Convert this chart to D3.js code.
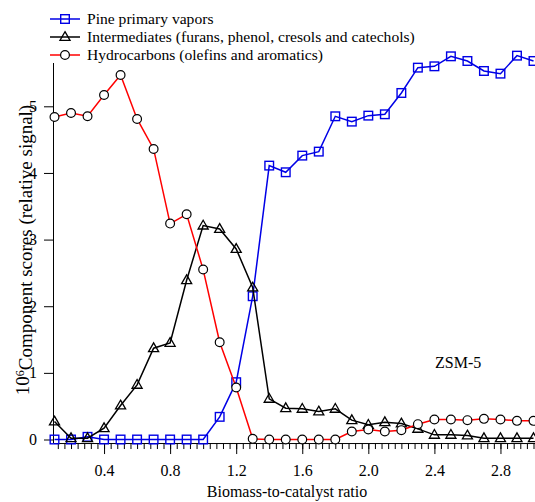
<!DOCTYPE html>
<html>
<head>
<meta charset="utf-8">
<script src="https://cdn.jsdelivr.net/npm/d3@7"></script>
<style>
    body { margin: 0; background: #fff; }
    svg text { font-family: "Liberation Serif", "DejaVu Serif", serif; fill: #000; }
</style>
</head>
<body>
<div id="score-chart"></div>
<script>

// biomass-to-catalyst ratio, one value per sample
var ratios = [0.1, 0.2, 0.3, 0.4, 0.5, 0.6, 0.7, 0.8, 0.9, 1.0,
              1.1, 1.2, 1.3, 1.4, 1.5, 1.6, 1.7, 1.8, 1.9, 2.0,
              2.1, 2.2, 2.3, 2.4, 2.5, 2.6, 2.7, 2.8, 2.9, 3.0];

// component scores (x 10^6, relative signal)
var pineVapors = [0, 0, 0.04, 0, 0, 0, 0, 0, 0, 0,
                  0.34, 0.86, 2.15, 4.11, 4.01, 4.26, 4.32, 4.85, 4.77, 4.86,
                  4.88, 5.20, 5.58, 5.60, 5.75, 5.68, 5.53, 5.49, 5.76, 5.68];

var intermediates = [0.27, 0.02, 0.02, 0.17, 0.51, 0.82, 1.37, 1.45, 2.39, 3.21,
                     3.16, 2.86, 2.28, 0.61, 0.47, 0.46, 0.42, 0.46, 0.29, 0.22,
                     0.26, 0.24, 0.16, 0.07, 0.07, 0.06, 0.02, 0.02, 0.02, 0.02];

var hydrocarbons = [4.84, 4.90, 4.85, 5.17, 5.47, 4.81, 4.36, 3.24, 3.38, 2.55,
                    1.46, 0.78, 0.01, 0, 0, 0, 0, 0, 0.12, 0.15,
                    0.12, 0.14, 0.23, 0.30, 0.30, 0.29, 0.31, 0.30, 0.28, 0.28];

var seriesNames = ["Pine primary vapors",
                   "Intermediates (furans, phenol, cresols and catechols)",
                   "Hydrocarbons (olefins and aromatics)"];

var xTickLabels = [0.4, 0.8, 1.2, 1.6, 2.0, 2.4, 2.8];
var yTickLabels = [0, 1, 2, 3, 4, 5];

/**
 * Constructor for the component score chart
 */
function ScoreChart(){
    var self = this;
    self.init();
};

/**
 * Sets up the svg and the two scales
 */
ScoreChart.prototype.init = function(){
    var self = this;
    self.svgWidth = 535;
    self.svgHeight = 502;

    self.svg = d3.select("#score-chart").append("svg")
        .attr("width", self.svgWidth)
        .attr("height", self.svgHeight);

    self.xScale = d3.scaleLinear()
        .domain([0.1, 3.0])
        .range([54.5, 533.5]);

    self.yScale = d3.scaleLinear()
        .domain([0, 5])
        .range([439.5, 106.3]);
};

/**
 * Draws a marker of the given kind centred on (x, y)
 */
ScoreChart.prototype.marker = function(g, kind, x, y, color){
    if (kind == "square"){
        g.append("rect")
            .attr("x", x - 4.3).attr("y", y - 4.3)
            .attr("width", 8.6).attr("height", 8.6)
            .attr("fill", "none")
            .attr("stroke", color)
            .attr("stroke-width", 1.4);
    }
    else if (kind == "triangle"){
        g.append("path")
            .attr("d", d3.symbol(d3.symbolTriangle, 44)())
            .attr("transform", "translate(" + x + "," + (y + 0.5) + ")")
            .attr("fill", "none")
            .attr("stroke", color)
            .attr("stroke-width", 1.3);
    }
    else {
        g.append("circle")
            .attr("cx", x).attr("cy", y)
            .attr("r", 4.4)
            .attr("fill", "#fff")
            .attr("stroke", color)
            .attr("stroke-width", 1.2);
    }
};

/**
 * Draws axes, the three series, the legend and the labels
 */
ScoreChart.prototype.update = function(){
    var self = this;
    var x = self.xScale, y = self.yScale;
    var axisY = y(-0.053);

    // x axis: minor ticks every 0.04, labelled ticks every 0.4
    var minorTicks = d3.range(0.12, 3.01, 0.04);
    self.svg.append("g")
        .attr("transform", "translate(0," + axisY + ")")
        .call(d3.axisBottom(x).tickValues(minorTicks).tickSize(6).tickFormat(""))
        .call(function(g){ g.select(".domain").remove(); });

    var xAxis = self.svg.append("g")
        .attr("transform", "translate(0," + axisY + ")")
        .call(d3.axisBottom(x).tickValues(xTickLabels).tickSize(11).tickSizeOuter(0)
            .tickPadding(11).tickFormat(d3.format(".1f")));
    xAxis.select(".domain").attr("d", "M54,0.5H535");

    var yAxis = self.svg.append("g")
        .attr("transform", "translate(54,0)")
        .call(d3.axisLeft(y).tickValues(yTickLabels).tickSize(10).tickSizeOuter(0)
            .tickPadding(7).tickFormat(d3.format("d")));
    yAxis.select(".domain").attr("d", "M-0.5,63V" + axisY);

    self.svg.selectAll("g").attr("font-family", null);
    self.svg.selectAll(".tick text")
        .style("font-size", "16px");
    self.svg.selectAll(".tick line, .domain").attr("stroke", "#000");

    // series
    var series = [
        {values: pineVapors, color: "#0000e6", kind: "square"},
        {values: intermediates, color: "#000", kind: "triangle"},
        {values: hydrocarbons, color: "#ff0000", kind: "circle"}
    ];

    var line = d3.line()
        .x(function(d, i){ return x(ratios[i]); })
        .y(function(d){ return y(d); });

    series.forEach(function(s){
        var g = self.svg.append("g");
        g.append("path")
            .attr("d", line(s.values))
            .attr("fill", "none")
            .attr("stroke", s.color)
            .attr("stroke-width", 1.5);
        var markerColor = s.kind == "square" ? s.color : "#000";
        s.values.forEach(function(v, i){
            self.marker(g, s.kind, x(ratios[i]), y(v), markerColor);
        });
    });

    // legend
    var legendRows = [19, 37, 55];
    series.forEach(function(s, i){
        var g = self.svg.append("g");
        g.append("line")
            .attr("x1", 50).attr("x2", 80)
            .attr("y1", legendRows[i]).attr("y2", legendRows[i])
            .attr("stroke", s.color)
            .attr("stroke-width", 1.5);
        self.marker(g, s.kind, 65, legendRows[i], s.kind == "square" ? s.color : "#000");
        g.append("text")
            .attr("x", 87)
            .attr("y", legendRows[i] + 5)
            .style("font-size", "15.6px")
            .text(seriesNames[i]);
    });

    // axis titles and annotation
    self.svg.append("text")
        .attr("x", 287)
        .attr("y", 497)
        .attr("text-anchor", "middle")
        .style("font-size", "16px")
        .text("Biomass-to-catalyst ratio");

    var yTitle = self.svg.append("text")
        .attr("transform", "translate(29,250) rotate(-90)")
        .attr("text-anchor", "middle")
        .style("font-size", "19px");
    yTitle.append("tspan").text("10");
    yTitle.append("tspan").attr("dy", "-0.45em").style("font-size", "12px").text("6");
    yTitle.append("tspan").attr("dy", "0.45em").text("Component scores (relative signal)");

    self.svg.append("text")
        .attr("x", 435)
        .attr("y", 368)
        .style("font-size", "16px")
        .text("ZSM-5");
};

var chart = new ScoreChart();
chart.update();

</script>
</body>
</html>
